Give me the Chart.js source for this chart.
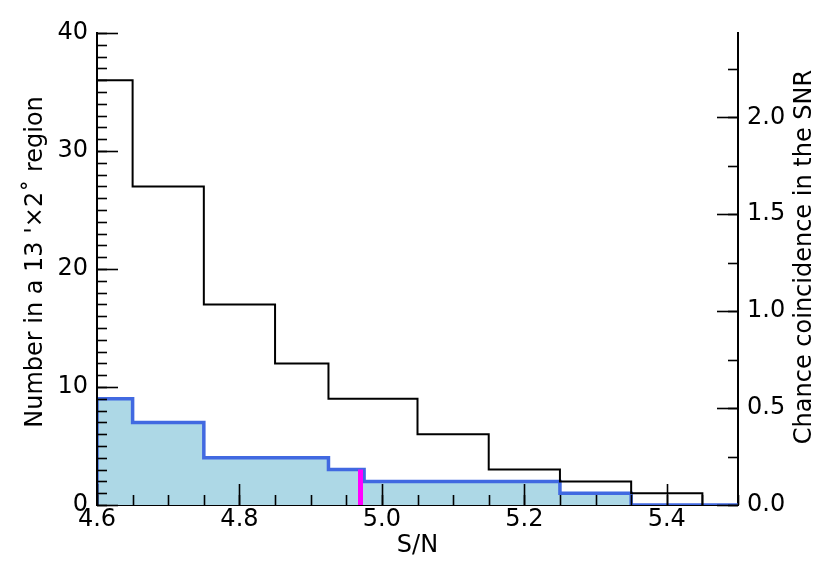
<!DOCTYPE html>
<html>
<head>
<meta charset="utf-8">
<script src="https://cdn.jsdelivr.net/npm/chart.js@4"></script>
<style>
  html, body { margin: 0; padding: 0; background: #ffffff; }
  #wrap { width: 830px; height: 570px; position: relative; }
</style>
</head>
<body>
<div id="wrap"><canvas id="c"></canvas></div>
<script>
// ---- data ----
const allEdges = [4.6, 4.65, 4.75, 4.85, 4.925, 5.05, 5.15, 5.25, 5.35, 5.45];
const allCounts = [36, 27, 17, 12, 9, 6, 3, 2, 1];
const chanceEdges = [4.6, 4.65, 4.75, 4.925, 4.975, 5.25, 5.35, 5.5];
const chanceCounts = [9, 7, 4, 3, 2, 1, 0];
const markerSN = [4.97, 4.97];
const markerCount = [0, 3];
const xTicks = [4.6, 4.8, 5.0, 5.2, 5.4];
const yTicks = [0, 10, 20, 30, 40];
const y2Ticks = [0.0, 0.5, 1.0, 1.5, 2.0];
const xMinorStep = 0.05;
const yMinorStep = 1;
const y2MinorStep = 0.25;
const leftTitle = "Number in a 13 '\u00d72\u02da region";
const rightTitle = 'Chance coincidence in the SNR';

// histogram outline: value of bin i held from edge i to edge i+1
function stepPoints(edges, counts) {
  const pts = [{x: edges[0], y: 0}];
  for (let i = 0; i < counts.length; i++) pts.push({x: edges[i + 1], y: counts[i]});
  pts.push({x: edges[edges.length - 1], y: 0});
  return pts;
}

const FONT = "'DejaVu Sans', sans-serif";
const FSIZE = 24;

const tickPlugin = {
  id: 'inwardTicks',
  afterDatasetsDraw(chart) {
    const ctx = chart.ctx;
    const area = chart.chartArea;
    ctx.save();
    ctx.strokeStyle = '#000';
    ctx.lineWidth = 1.6;
    const majorLen = 21, minorLen = 10;
    function draw(scale, values, len, side) {
      values.forEach(v => {
        if (v < scale.min - 1e-9 || v > scale.max + 1e-9) return;
        const p = Math.round(scale.getPixelForValue(v)) + 0.5;
        ctx.beginPath();
        if (side === 'bottom') { ctx.moveTo(p, area.bottom); ctx.lineTo(p, area.bottom - len); }
        else if (side === 'left') { ctx.moveTo(area.left, p); ctx.lineTo(area.left + len, p); }
        else { ctx.moveTo(area.right, p); ctx.lineTo(area.right - len, p); }
        ctx.stroke();
      });
    }
    function minors(min, max, step) {
      const out = [];
      const n = Math.floor((max - min) / step + 1e-6);
      for (let i = 0; i <= n; i++) out.push(+(min + i * step).toFixed(4));
      return out;
    }
    const sx = chart.scales.x, sy = chart.scales.y, sy2 = chart.scales.y2;
    draw(sx, minors(sx.min, sx.max, xMinorStep), minorLen, 'bottom');
    draw(sx, xTicks, majorLen, 'bottom');
    draw(sy, minors(sy.min, sy.max, yMinorStep), minorLen, 'left');
    draw(sy, yTicks, majorLen, 'left');
    draw(sy2, minors(sy2.min, sy2.max, y2MinorStep), minorLen, 'right');
    draw(sy2, y2Ticks, majorLen, 'right');

    // vertical axis titles (both read bottom-to-top)
    ctx.fillStyle = '#000';
    ctx.font = FSIZE + 'px ' + FONT;
    ctx.textAlign = 'center';
    ctx.textBaseline = 'middle';
    [[leftTitle, 36, 262], [rightTitle, 805, 257]].forEach(([t, x, y]) => {
      ctx.save();
      ctx.translate(x, y);
      ctx.rotate(-Math.PI / 2);
      ctx.fillText(t, 0, 0);
      ctx.restore();
    });
    ctx.restore();
  }
};

const axisBorder = {display: true, color: '#000', width: 2};
const tickFont = {family: FONT, size: FSIZE};

new Chart(document.getElementById('c'), {
  type: 'line',
  data: {
    datasets: [
      {
        data: markerSN.map((x, i) => ({x: x, y: markerCount[i]})),
        borderColor: '#ff00ff', borderWidth: 5, pointRadius: 0, fill: false,
        order: 0, yAxisID: 'y', borderCapStyle: 'butt'
      },
      {
        data: stepPoints(allEdges, allCounts),
        stepped: 'after', borderColor: '#000000', borderWidth: 2, pointRadius: 0, fill: false,
        order: 1, yAxisID: 'y'
      },
      {
        data: stepPoints(chanceEdges, chanceCounts),
        stepped: 'after', borderColor: '#4169e1', borderWidth: 3.5, pointRadius: 0,
        backgroundColor: '#add8e6', fill: 'origin',
        order: 2, yAxisID: 'y'
      }
    ]
  },
  options: {
    responsive: true,
    maintainAspectRatio: false,
    animation: false,
    layout: {padding: {top: 33, left: 0, right: 0, bottom: 0}},
    plugins: {legend: {display: false}, tooltip: {enabled: false}},
    scales: {
      x: {
        type: 'linear', position: 'bottom', min: 4.6, max: 5.5,
        grid: {display: false, drawTicks: false},
        border: axisBorder,
        afterBuildTicks: s => { s.ticks = xTicks.map(v => ({value: v})); },
        afterFit: s => { s.height = 65; },
        ticks: {color: '#000', font: tickFont, padding: 0, maxRotation: 0,
                callback: v => Number(v).toFixed(1)},
        title: {display: true, text: 'S/N', color: '#000', font: tickFont,
                padding: {top: 0, bottom: 10}}
      },
      y: {
        type: 'linear', position: 'left', min: 0, max: 40,
        grid: {display: false, drawTicks: false},
        border: axisBorder,
        afterBuildTicks: s => { s.ticks = yTicks.map(v => ({value: v})); },
        afterFit: s => { s.width = 97; },
        ticks: {color: '#000', font: tickFont, padding: 9,
                callback: v => String(v)}
      },
      y2: {
        type: 'linear', position: 'right', min: 0, max: 2.435,
        grid: {display: false, drawTicks: false},
        border: axisBorder,
        afterBuildTicks: s => { s.ticks = y2Ticks.map(v => ({value: v})); },
        afterFit: s => { s.width = 92; },
        ticks: {color: '#000', font: tickFont, padding: 9,
                callback: v => Number(v).toFixed(1)}
      }
    }
  },
  plugins: [tickPlugin]
});
</script>
</body>
</html>
